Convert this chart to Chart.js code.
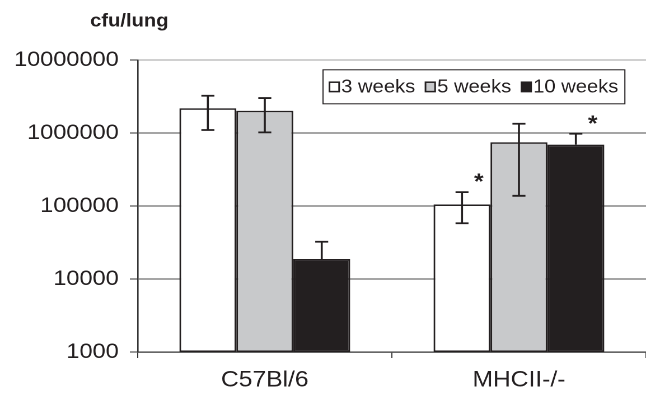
<!DOCTYPE html>
<html>
<head>
<meta charset="utf-8">
<script src="https://cdn.jsdelivr.net/npm/chart.js@4.4.1/dist/chart.umd.min.js"></script>
<style>
  html, body { margin: 0; padding: 0; background: #fff; overflow: hidden; }
  /* the figure is laid out a little narrower and widened to 646px */
  #wrap { position: absolute; left: 0; top: 0; width: 577px; height: 393px;
          transform: scale(1.1196, 1); transform-origin: 0 0; }
</style>
</head>
<body>
<div id="wrap"><canvas id="c"></canvas></div>
<script>
// Mouse strains on the x axis
const groups = ['C57Bl/6', 'MHCII-/-'];
// Time points after infection
const seriesNames = ['3 weeks', '5 weeks', '10 weeks'];

// Mean bacterial load (cfu per lung)
const weeks3  = [2180000, 105000];
const weeks5  = [2020000, 746000];
const weeks10 = [18800, 692000];

// Error bar ends (upper / lower); null = not drawn
const upper3  = [3240000, 155000];
const lower3  = [1100000, 58000];
const upper5  = [3010000, 1340000];
const lower5  = [1020000, 138000];
const upper10 = [32400, 977000];
const lower10 = [null, null];

// Significant difference markers
const signif3  = [false, true];
const signif5  = [false, false];
const signif10 = [false, true];

// Log axis ticks
const yTicks = [1000, 10000, 100000, 1000000, 10000000];
const yUnit = 'cfu/lung';

const INK = '#231f20';
const fills = ['#ffffff', '#c8c9cb', '#231f20'];

const errorBars = {
  id: 'errorBars',
  afterDatasetsDraw(chart) {
    const ctx = chart.ctx;
    const y = chart.scales.y;
    const cap = 5.8;
    ctx.save();
    chart.data.datasets.forEach((ds, i) => {
      const meta = chart.getDatasetMeta(i);
      meta.data.forEach((bar, j) => {
        const hi = ds.errHigh[j], lo = ds.errLow[j];
        const x = bar.x;
        const yv = y.getPixelForValue(ds.data[j]);
        const yh = hi != null ? y.getPixelForValue(hi) : yv;
        const yl = lo != null ? y.getPixelForValue(lo) : yv;
        ctx.strokeStyle = INK;
        ctx.lineWidth = 1.8;
        ctx.beginPath();
        ctx.moveTo(x, yh); ctx.lineTo(x, yl);
        if (hi != null) { ctx.moveTo(x - cap, yh); ctx.lineTo(x + cap, yh); }
        if (lo != null) { ctx.moveTo(x - cap, yl); ctx.lineTo(x + cap, yl); }
        ctx.stroke();
        if (ds.signif[j]) {
          ctx.fillStyle = INK;
          ctx.font = 'bold 22px "Liberation Sans", Arial, sans-serif';
          ctx.textAlign = 'center';
          ctx.textBaseline = 'middle';
          ctx.fillText('*', x + 15, yh - 9);
        }
      });
    });
    ctx.restore();
  }
};

const boxLegend = {
  id: 'boxLegend',
  afterDraw(chart) {
    const ctx = chart.ctx;
    ctx.save();
    // unit label above the value axis
    ctx.fillStyle = INK;
    ctx.font = 'bold 18px "Liberation Sans", Arial, sans-serif';
    ctx.textAlign = 'center';
    ctx.textBaseline = 'alphabetic';
    ctx.fillText(yUnit, 115.5, 26.5);

    // legend in a framed box
    const x0 = 288, yTop = 69.3, yBot = 103.3;
    const pad = 6.3, sw = 8.6, sh = 9.4, gap = 1.9, itemGap = 9.2;
    ctx.font = '18px "Liberation Sans", Arial, sans-serif';
    let x = x0 + pad;
    const items = chart.data.datasets.map(ds => ({ label: ds.label, fill: ds.backgroundColor }));
    const midY = (yTop + yBot) / 2;
    items.forEach((it, k) => {
      ctx.fillStyle = it.fill;
      ctx.fillRect(x, midY - sh / 2 + 0.6, sw, sh);
      ctx.strokeStyle = INK;
      ctx.lineWidth = 1.5;
      ctx.strokeRect(x, midY - sh / 2 + 0.6, sw, sh);
      x += sw + gap;
      ctx.fillStyle = INK;
      ctx.textAlign = 'left';
      ctx.textBaseline = 'alphabetic';
      ctx.fillText(it.label, x, midY + 6.4);
      x += ctx.measureText(it.label).width;
      if (k < items.length - 1) x += itemGap;
    });
    x += pad - 1;
    ctx.strokeStyle = INK;
    ctx.lineWidth = 1;
    ctx.strokeRect(x0 + 0.5, yTop + 0.5, x - x0, yBot - yTop);
    ctx.restore();
  }
};

const makeSet = (i, data, hi, lo, sig) => ({
  label: seriesNames[i],
  data: data,
  errHigh: hi,
  errLow: lo,
  signif: sig,
  backgroundColor: fills[i],
  borderColor: INK,
  borderWidth: 1.6,
  borderSkipped: false,
  barPercentage: 1.0,
  categoryPercentage: 0.672
});

new Chart(document.getElementById('c'), {
  type: 'bar',
  data: {
    labels: groups,
    datasets: [
      makeSet(0, weeks3, upper3, lower3, signif3),
      makeSet(1, weeks5, upper5, lower5, signif5),
      makeSet(2, weeks10, upper10, lower10, signif10)
    ]
  },
  options: {
    responsive: true,
    maintainAspectRatio: false,
    animation: false,
    devicePixelRatio: 2,
    layout: { padding: { top: 60, right: 0, bottom: 0, left: 0 } },
    plugins: {
      legend: { display: false },
      tooltip: { enabled: false }
    },
    scales: {
      x: {
        afterFit(scale) { scale.height = 41; },
        grid: { display: true, drawOnChartArea: false, color: '#333', tickLength: 6, offset: true },
        border: { color: '#333', width: 1.2 },
        ticks: {
          color: INK,
          padding: 9,
          font: { family: '"Liberation Sans", Arial, sans-serif', size: 22 }
        }
      },
      y: {
        type: 'logarithmic',
        min: yTicks[0],
        max: yTicks[yTicks.length - 1],
        afterFit(scale) { scale.width = 123; },
        afterBuildTicks(scale) { scale.ticks = yTicks.map(v => ({ value: v })); },
        grid: {
          color: c => (c.tick && c.tick.value === 10000000) ? '#a0a0a0' : '#4a4a4a',
          lineWidth: 1,
          tickColor: '#333',
          tickLength: 7
        },
        border: { color: '#333', width: 1.3 },
        ticks: {
          color: INK,
          padding: 10,
          autoSkip: false,
          font: { family: '"Liberation Sans", Arial, sans-serif', size: 21 },
          callback: v => String(v)
        }
      }
    }
  },
  plugins: [errorBars, boxLegend]
});
</script>
</body>
</html>
